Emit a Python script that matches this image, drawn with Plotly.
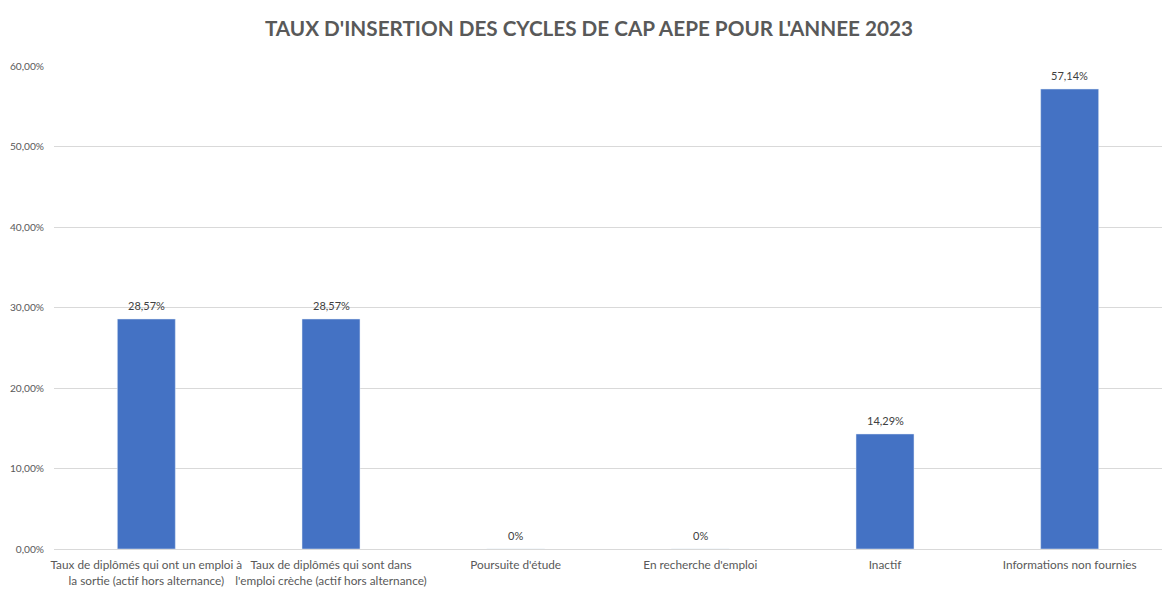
import plotly.graph_objects as go

categories = [
    "Taux de diplômés qui ont un emploi à<br>la sortie (actif hors alternance)",
    "Taux de diplômés qui sont dans<br>l'emploi crèche (actif hors alternance)",
    "Poursuite d'étude",
    "En recherche d'emploi",
    "Inactif",
    "Informations non fournies",
]
values = [0.2857, 0.2857, 0.0, 0.0, 0.1429, 0.5714]
labels = ["28,57%", "28,57%", "0%", "0%", "14,29%", "57,14%"]
tick_vals = [0, 0.1, 0.2, 0.3, 0.4, 0.5, 0.6]

fig = go.Figure(go.Bar(
    x=categories, y=values,
    marker=dict(color="#4472C4"), cliponaxis=False,
))
for c, v, t in zip(categories, values, labels):
    fig.add_annotation(x=c, y=v, text=t, showarrow=False, yanchor="bottom",
                       yshift=5, font=dict(size=11, color="#404040"))

fig.update_layout(
    width=1176, height=594,
    font=dict(family="Lato", color="#595959", size=11),
    separators=", ",
    title=dict(text="<b>TAUX D'INSERTION DES CYCLES DE CAP AEPE POUR L'ANNEE 2023</b>",
               x=0.494, xanchor="center", y=0.9646, yanchor="middle",
               font=dict(size=20.7, color="#595959")),
    margin=dict(l=46, r=22, t=58, b=53, autoexpand=False),
    bargap=0.686,
    plot_bgcolor="white", paper_bgcolor="white",
    showlegend=False,
)
fig.update_yaxes(range=[0, 0.6], tickvals=tick_vals, tickformat=".2%",
                 gridcolor="#d9d9d9", zeroline=False, showline=False,
                 ticks="", ticklabelstandoff=9, tickfont=dict(size=10.2, color="#595959"),
                 automargin=False)
fig.update_xaxes(showline=True, linecolor="#d9d9d9", ticks="", tickangle=0,
                 ticklabelstandoff=5, tickfont=dict(size=11.8, color="#595959"),
                 automargin=False)
fig.write_html("out.html")
